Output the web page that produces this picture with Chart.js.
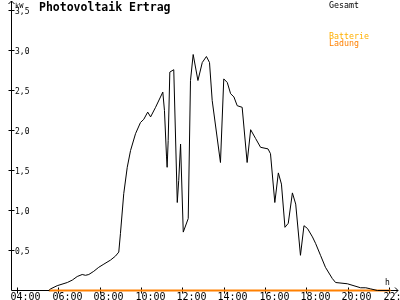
<!DOCTYPE html>
<html><head><meta charset="utf-8">
<script src="https://cdn.jsdelivr.net/npm/chart.js@4"></script>
<style>html,body{margin:0;padding:0;background:#fff}canvas{display:block}</style>
</head><body>
<canvas id="c" width="400" height="300"></canvas>
<script>
const chartTitle = "Photovoltaik Ertrag";
const seriesNames = ["Gesamt", "Batterie", "Ladung"];
const unitY = "kW";
const unitX = "h";
// time in decimal hours, Gesamt power in kW
const times = [4.0, 5.52, 5.60, 5.92, 6.41, 6.65, 6.89, 7.13, 7.29, 7.45, 7.69, 7.93, 8.18, 8.50, 8.74, 8.90, 8.98, 9.14, 9.31, 9.47, 9.71, 9.95, 10.11, 10.30, 10.44, 10.68, 11.03, 11.11, 11.21, 11.24, 11.29, 11.37, 11.56, 11.73, 11.80, 11.89, 12.02, 12.26, 12.37, 12.50, 12.73, 12.94, 13.14, 13.29, 13.42, 13.82, 13.98, 14.15, 14.31, 14.47, 14.63, 14.87, 15.11, 15.28, 15.52, 15.76, 16.12, 16.24, 16.45, 16.62, 16.77, 16.94, 17.10, 17.30, 17.46, 17.69, 17.86, 18.03, 18.27, 18.42, 18.66, 18.90, 19.23, 19.39, 19.96, 20.60, 20.85, 21.09, 21.41, 22.0];
const gesamt = [0, 0, 0.02, 0.06, 0.10, 0.13, 0.175, 0.20, 0.19, 0.20, 0.24, 0.29, 0.33, 0.38, 0.43, 0.48, 0.71, 1.21, 1.54, 1.75, 1.96, 2.10, 2.14, 2.23, 2.17, 2.29, 2.48, 2.25, 1.67, 1.54, 1.875, 2.73, 2.76, 1.10, 1.375, 1.83, 0.73, 0.90, 2.625, 2.95, 2.625, 2.85, 2.925, 2.85, 2.375, 1.60, 2.645, 2.60, 2.46, 2.42, 2.31, 2.29, 1.60, 2.01, 1.90, 1.79, 1.77, 1.71, 1.10, 1.47, 1.33, 0.79, 0.84, 1.22, 1.08, 0.44, 0.81, 0.775, 0.67, 0.59, 0.44, 0.29, 0.15, 0.10, 0.084, 0.034, 0.034, 0.02, 0, 0];
const ladungTimes = [5.52, 22.05];
const ladung = [0, 0];
const xTicks = [4, 6, 8, 10, 12, 14, 16, 18, 20, 22];
const xTickLabels = ["04:00", "06:00", "08:00", "10:00", "12:00", "14:00", "16:00", "18:00", "20:00", "22:00"];
const yTicks = [0.5, 1.0, 1.5, 2.0, 2.5, 3.0, 3.5];
const yTickLabels = ["0,5", "1,0", "1,5", "2,0", "2,5", "3,0", "3,5"];

const colGesamt = "#000000";
const colBatterie = "#FFB000";
const colLadung = "#FF8000";

const axesPlugin = {
  id: 'axesPlugin',
  beforeDatasetsDraw(chart) {
    const ctx = chart.ctx;
    const xs = chart.scales.x, ys = chart.scales.y;
    const x0 = xs.left, y0 = ys.getPixelForValue(0);
    ctx.save();
    ctx.strokeStyle = "#000";
    ctx.lineWidth = 1;
    ctx.beginPath();
    // y axis
    ctx.moveTo(x0, y0); ctx.lineTo(x0, 1);
    ctx.moveTo(x0 - 3, 4); ctx.lineTo(x0, 1); ctx.lineTo(x0 + 3, 4);
    // x axis
    ctx.moveTo(x0, y0); ctx.lineTo(398, y0);
    ctx.moveTo(395, y0 - 3); ctx.lineTo(398, y0); ctx.lineTo(395, y0 + 3);
    // x ticks
    xTicks.forEach(t => {
      const px = Math.round(xs.getPixelForValue(t) - 0.5) + 0.5;
      ctx.moveTo(px, y0 - 3); ctx.lineTo(px, y0 + 3);
    });
    yTicks.forEach(v => {
      const py = Math.round(ys.getPixelForValue(v) - 0.5) + 0.5;
      ctx.moveTo(x0 - 3, py); ctx.lineTo(x0 + 3, py);
    });
    ctx.stroke();
    // tick labels
    ctx.fillStyle = "#000";
    ctx.font = "10px 'DejaVu Sans Mono'";
    ctx.textAlign = "left";
    ctx.textBaseline = "alphabetic";
    xTicks.forEach((t, i) => {
      const px = xs.getPixelForValue(t);
      ctx.fillText(xTickLabels[i], Math.round(px) - 6.5, 300);
    });
    ctx.font = "8px 'DejaVu Sans Mono'";
    ctx.textBaseline = "middle";
    yTicks.forEach((v, i) => {
      const py = ys.getPixelForValue(v);
      ctx.fillText(yTickLabels[i], 15, py + 1);
    });
    // units
    ctx.textBaseline = "alphabetic";
    ctx.font = "7px 'DejaVu Sans Mono'";
    ctx.fillText(unitY, 15, 8);
    ctx.font = "8px 'DejaVu Sans Mono'";
    ctx.fillText(unitX, 385, 285);
    // title
    ctx.font = "bold 11.5px 'DejaVu Sans Mono'";
    ctx.fillText(chartTitle, 39, 11);
    // legend
    ctx.font = "8.3px 'DejaVu Sans Mono'";
    ctx.fillStyle = colGesamt;
    ctx.fillText(seriesNames[0], 329, 8);
    ctx.fillStyle = colBatterie;
    ctx.fillText(seriesNames[1], 329, 39);
    ctx.fillStyle = colLadung;
    ctx.fillText(seriesNames[2], 329, 46);
    ctx.restore();
  }
};

new Chart(document.getElementById('c'), {
  type: 'line',
  data: {
    datasets: [
      {
        label: seriesNames[0],
        data: times.map((t, i) => ({x: t, y: gesamt[i]})),
        borderColor: colGesamt, borderWidth: 1, pointRadius: 0, tension: 0, fill: false, clip: false
      },
      {
        label: seriesNames[2],
        data: ladungTimes.map((t, i) => ({x: t, y: ladung[i]})),
        borderColor: colLadung, borderWidth: 2, pointRadius: 0, tension: 0, fill: false, clip: false
      }
    ]
  },
  options: {
    responsive: false,
    devicePixelRatio: 1,
    animation: false,
    layout: {padding: {left: 11.5, right: 2.5, top: 2.5, bottom: 9.5}},
    scales: {
      x: {type: 'linear', min: 3.71, max: 22.385, display: false},
      y: {type: 'linear', min: 0, max: 3.6, display: false}
    },
    plugins: {legend: {display: false}, tooltip: {enabled: false}}
  },
  plugins: [axesPlugin]
});
</script>
</body></html>
